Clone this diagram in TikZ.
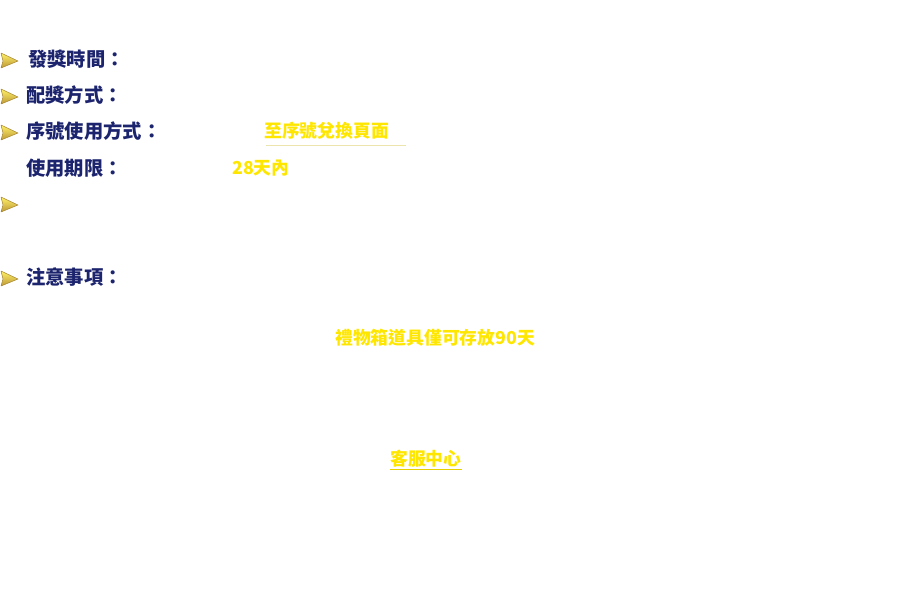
\documentclass[tikz,border=0pt]{standalone}
\usepackage{fontspec}
\newfontfamily\cjk{Noto Sans CJK TC}
\usetikzlibrary{positioning}
\definecolor{navy}{RGB}{28,36,110}
\definecolor{gold}{RGB}{255,230,0}
\definecolor{tipgold}{RGB}{236,190,70}

\tikzset{
  itemtext/.style={anchor=west,inner sep=0pt,text=navy,font=\cjk\bfseries\fontsize{19.3bp}{21bp}\selectfont},
  note/.style={anchor=west,inner sep=0pt,text=gold,font=\cjk\bfseries\fontsize{17.8bp}{20bp}\selectfont},
  bullet/.style={top color=gold!60!white,bottom color=tipgold!80!black,draw=tipgold!70!black,line width=0.5bp,line join=round},
}
\newcommand{\pointer}[2]{\draw[bullet] (#1,-#2+8) -- (#1+17,-#2) -- (#1,-#2-7) -- (#1+2,-#2) -- cycle;}

\begin{document}
\begin{tikzpicture}[x=1bp,y=1bp]
%
  \useasboundingbox (0,0) rectangle (919,-610);
  \pointer{1}{61}
  \pointer{1}{97}
  \pointer{1}{133}
  \pointer{1}{205}
  \pointer{1}{279}
  \node[itemtext] (time) at (28,-59) {發獎時間：};
  \node[itemtext] (way) at (26,-95) {配獎方式：};
  \node[itemtext] (use) at (26,-131) {序號使用方式：};
  \node[itemtext] (limit) at (26,-168) {使用期限：};
  \node[itemtext] (notes) at (26,-277) {注意事項：};
  \node[note] (redeem) at (264,-131) {至序號兌換頁面};
  \node[note] (days) at (232,-168) {28天內};
  \node[note] (giftbox) at (335,-338) {禮物箱道具僅可存放90天};
  \node[note] (service) at (390,-459) {客服中心};
  \coordinate (u1) at (266,-145);
  \coordinate (u1e) at (406,-145);
  \draw[gold!60!gray!40,line width=0.5bp] (u1) -- (u1e);
  \draw[gold!90!black,line width=1.3bp] ([yshift=-2bp]service.south west) -- ([yshift=-2bp]service.south east);
%
\end{tikzpicture}
\end{document}
